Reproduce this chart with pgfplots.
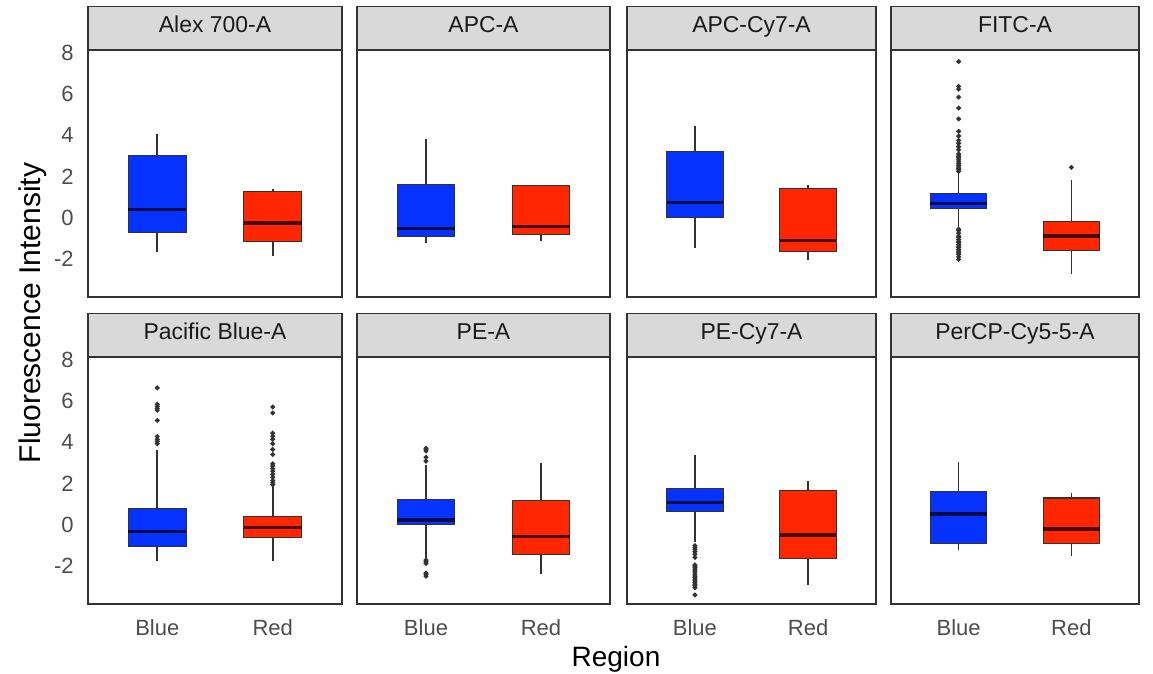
\documentclass[border=0pt]{standalone}
\usepackage{pgfplots}
\pgfplotsset{compat=1.18}
\usepgfplotslibrary{statistics}
\usepackage{fontspec}
\setmainfont{Liberation Sans}
\definecolor{bluec}{RGB}{5,50,255}
\definecolor{redc}{RGB}{255,38,0}
\definecolor{gridc}{RGB}{51,51,51}
\definecolor{stripc}{RGB}{217,217,217}
\definecolor{tickc}{RGB}{77,77,77}
\pgfplotsset{
 every axis title shift=0pt,
 panel/.style={
   scale only axis, height=185.25pt,
   xmin=0.4, xmax=2.6, ymin=-3.85, ymax=8.15,
   axis line style={draw=gridc, line width=0.8pt},
   major tick length=0pt, tick style={draw=none},
   xtick={1,2}, ytick={-2,0,2,4,6,8},
   xticklabels={}, yticklabels={},
   ticklabel style={font=\fontsize{16.5}{18}\selectfont, text=tickc},
   xticklabel style={inner sep=0pt, anchor=north, yshift=-11.25pt},
   yticklabel style={inner sep=0pt, anchor=east, xshift=-10.5pt},
   title style={at={(0.5,1)}, anchor=south, fill=stripc, draw=gridc, line width=0.8pt,
     minimum height=32.4pt, inner sep=0pt, text height=0.716em, text depth=0pt,
     font=\fontsize{17.2}{19}\selectfont, text=black!90, yshift=0pt},
 },
 bbox/.style n args={7}{draw=gridc, fill=#1, line width=1.2pt,
   mark=*, mark size=1.15pt, mark options={draw=none, fill=gridc},
   boxplot/draw direction=y,
   boxplot prepared={draw position=#2, lower whisker=#3, lower quartile=#4,
     median=#5, upper quartile=#6, upper whisker=#7, box extend=0.5, whisker extend=0,
     every box/.style={line width=0.8pt},
     every whisker/.style={line width=1.2pt},
     every median/.style={draw=black, draw opacity=0.72, line width=2.4pt}}},
}
\begin{document}
\begin{tikzpicture}
\path[use as bounding box] (0,0) rectangle (864.75pt,505.5pt);
% ---------- top row ----------
\begin{axis}[panel, at={(66pt,282.75pt)}, anchor=south west, width=190.5pt,
  title={Alex 700-A}, title style={minimum width=190.5pt}, yticklabels={-2,0,2,4,6,8}]
\addplot[bbox={bluec}{1}{-1.67}{-0.73}{0.39}{3.02}{4.09}] coordinates {};
\addplot[bbox={redc}{2}{-1.86}{-1.15}{-0.26}{1.29}{1.42}] coordinates {};
\end{axis}
\begin{axis}[panel, at={(267.75pt,282.75pt)}, anchor=south west, width=189.75pt,
  title={APC-A}, title style={minimum width=189.75pt}]
\addplot[bbox={bluec}{1}{-1.21}{-0.91}{-0.53}{1.61}{3.83}] coordinates {};
\addplot[bbox={redc}{2}{-1.13}{-0.81}{-0.42}{1.55}{1.61}] coordinates {};
\end{axis}
\begin{axis}[panel, at={(470.25pt,282.75pt)}, anchor=south west, width=186.75pt,
  title={APC-Cy7-A}, title style={minimum width=186.75pt}]
\addplot[bbox={bluec}{1}{-1.49}{0.01}{0.73}{3.2}{4.47}] coordinates {};
\addplot[bbox={redc}{2}{-2.06}{-1.65}{-1.1}{1.42}{1.61}] coordinates {};
\end{axis}
\begin{axis}[panel, at={(668.25pt,282.75pt)}, anchor=south west, width=186pt,
  title={FITC-A}, title style={minimum width=186pt}]
\addplot[bbox={bluec}{1}{-0.5}{0.47}{0.68}{1.18}{2.18}] table[row sep=\\, y index=0] {
y\\ 7.59\\ 6.38\\ 6.25\\ 5.86\\ 5.33\\ 4.8\\ 4.2\\ 3.97\\ 3.76\\ 3.62\\ 3.45\\ 3.3\\ 3.1\\ 3.0\\ 2.92\\ 2.85\\ 2.75\\ 2.65\\ 2.55\\ 2.47\\ 2.4\\ 2.33\\ 2.25\\
-0.55\\ -0.62\\ -0.75\\ -0.89\\ -0.95\\ -1.05\\ -1.15\\ -1.2\\ -1.3\\ -1.38\\ -1.45\\ -1.55\\ -1.62\\ -1.7\\ -1.78\\ -1.9\\ -2.02\\};
\addplot[bbox={redc}{2}{-2.75}{-1.57}{-0.89}{-0.16}{1.82}] table[row sep=\\, y index=0] {y\\ 2.45\\};
\end{axis}
% ---------- bottom row ----------
\begin{axis}[panel, at={(66pt,52.5pt)}, anchor=south west, width=190.5pt,
  title={Pacific Blue-A}, title style={minimum width=190.5pt}, yticklabels={-2,0,2,4,6,8},
  xticklabels={Blue,Red}]
\addplot[bbox={bluec}{1}{-1.76}{-1.06}{-0.33}{0.81}{3.61}] table[row sep=\\, y index=0] {
y\\ 6.65\\ 5.85\\ 5.75\\ 5.65\\ 5.56\\ 5.07\\ 4.29\\ 4.15\\ 4.05\\ 3.94\\};
\addplot[bbox={redc}{2}{-1.76}{-0.62}{-0.13}{0.39}{1.88}] table[row sep=\\, y index=0] {
y\\ 5.72\\ 5.43\\ 4.45\\ 4.3\\ 4.15\\ 3.94\\ 3.66\\ 3.41\\ 2.96\\ 2.85\\ 2.72\\ 2.6\\ 2.45\\ 2.31\\ 2.15\\ 2.05\\ 1.95\\};
\end{axis}
\begin{axis}[panel, at={(267.75pt,52.5pt)}, anchor=south west, width=189.75pt,
  title={PE-A}, title style={minimum width=189.75pt}, xticklabels={Blue,Red}]
\addplot[bbox={bluec}{1}{-1.6}{0.03}{0.23}{1.22}{2.88}] table[row sep=\\, y index=0] {
y\\ 3.72\\ 3.66\\ 3.58\\ 3.28\\ 3.09\\ -1.72\\ -1.8\\ -1.88\\ -2.35\\ -2.42\\ -2.5\\};
\addplot[bbox={redc}{2}{-2.41}{-1.43}{-0.57}{1.2}{3.01}] coordinates {};
\end{axis}
\begin{axis}[panel, at={(470.25pt,52.5pt)}, anchor=south west, width=186.75pt,
  title={PE-Cy7-A}, title style={minimum width=186.75pt}, xticklabels={Blue,Red}]
\addplot[bbox={bluec}{1}{-0.86}{0.63}{1.09}{1.74}{3.37}] table[row sep=\\, y index=0] {
y\\ -1.02\\ -1.1\\ -1.19\\ -1.3\\ -1.43\\ -1.59\\ -1.95\\ -2.0\\ -2.08\\ -2.15\\ -2.24\\ -2.3\\ -2.41\\ -2.5\\ -2.57\\ -2.65\\ -2.73\\ -2.8\\ -2.89\\ -2.95\\ -3.06\\ -3.41\\};
\addplot[bbox={redc}{2}{-2.93}{-1.63}{-0.5}{1.66}{2.11}] coordinates {};
\end{axis}
\begin{axis}[panel, at={(668.25pt,52.5pt)}, anchor=south west, width=186pt,
  title={PerCP-Cy5-5-A}, title style={minimum width=186pt}, xticklabels={Blue,Red}]
\addplot[bbox={bluec}{1}{-1.24}{-0.91}{0.52}{1.63}{3.04}] coordinates {};
\addplot[bbox={redc}{2}{-1.54}{-0.91}{-0.21}{1.3}{1.55}] coordinates {};
\end{axis}
% ---------- axis titles ----------
\node[rotate=90, anchor=base, font=\fontsize{22.5}{25}\selectfont, inner sep=0pt] at (30pt,270.75pt) {Fluorescence Intensity};
\node[anchor=base, font=\fontsize{21}{24}\selectfont, inner sep=0pt] at (462pt,5.25pt) {Region};
\end{tikzpicture}
\end{document}
